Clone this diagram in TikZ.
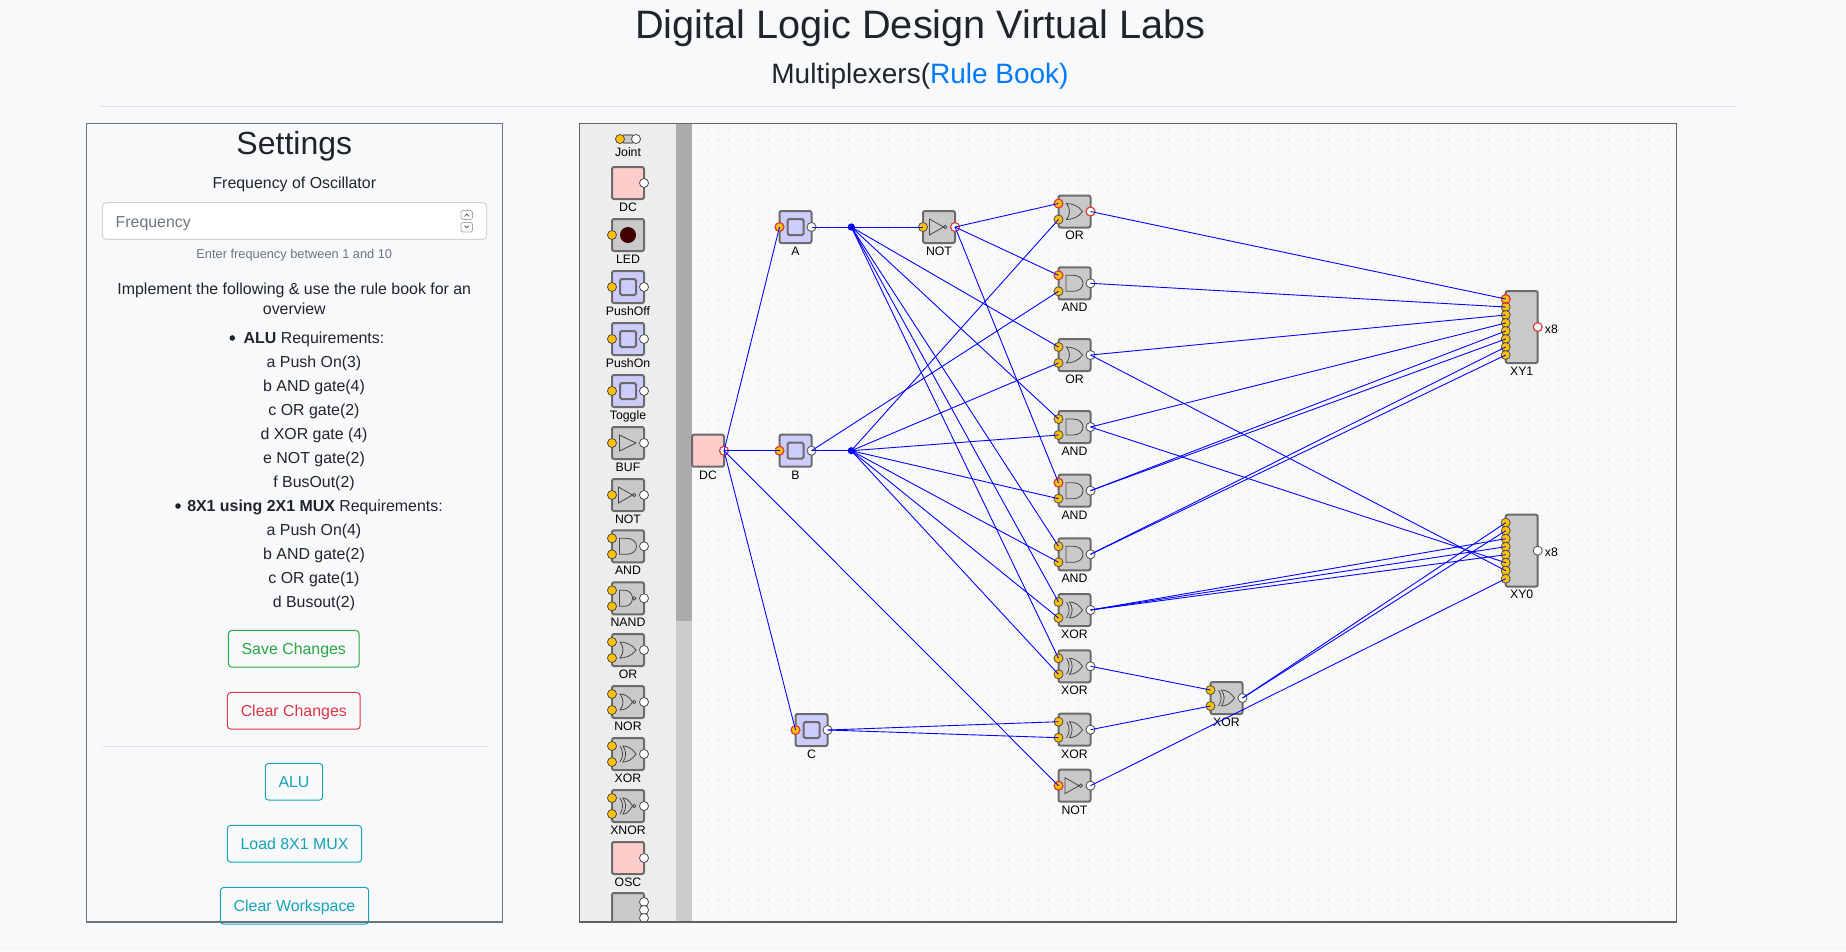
\documentclass[tikz,border=0pt]{standalone}
\usepackage{fontspec}
\setmainfont{Liberation Sans}
\definecolor{pagebg}{HTML}{F8F9FA}
\definecolor{inktxt}{HTML}{212529}
\definecolor{mutetxt}{HTML}{6C757D}
\definecolor{rulegrey}{HTML}{DEE2E6}
\definecolor{linkblue}{HTML}{007BFF}
\definecolor{okgreen}{HTML}{28A745}
\definecolor{badred}{HTML}{DC3545}
\definecolor{infoteal}{HTML}{17A2B8}
\definecolor{pinyellow}{HTML}{FFC000}
\definecolor{griddot}{HTML}{DFE1E3}
\definecolor{hotred}{HTML}{FF3030}
\tikzset{
  txt/.style={anchor=base,inner sep=0pt,text=inktxt,font=\fontsize{11.93}{14}\selectfont},
  tag/.style={anchor=base,inner sep=0pt,text=black,font=\fontsize{9.2}{11}\selectfont},
  part/.style={draw=black!58,fill=black!21,line width=1.5pt,rounded corners=1.5pt,minimum size=24pt,inner sep=0pt},
  pushbody/.style={fill=blue!20},
  srcbody/.style={fill=red!20},
  pinin/.style={circle,draw=black!70,fill=pinyellow,line width=.6pt,minimum size=6.8pt,inner sep=0pt},
  pinout/.style={circle,draw=black!70,fill=white,line width=.6pt,minimum size=6.8pt,inner sep=0pt},
  hotring/.style={draw=hotred,line width=.65pt},
  wire/.style={blue,line width=.66pt},
  joint/.style={circle,fill=blue,minimum size=5.4pt,inner sep=0pt},
  sym/.style={draw=black!72,line width=.6pt},
  btn/.style={draw,rounded corners=2.5pt,line width=.75pt,minimum height=27.5pt,anchor=center,inner sep=0pt,text height=9pt,text depth=1.2pt,font=\fontsize{11.93}{14}\selectfont},
  andsym/.pic={\draw[sym] (-8.5,-8)--(-1,-8) .. controls (5,-8) and (8.5,-4) .. (8.5,0) .. controls (8.5,4) and (5,8) .. (-1,8)--(-8.5,8)--cycle;},
  nandsym/.pic={\draw[sym] (-8.5,-8)--(-3,-8) .. controls (1.5,-8) and (4.5,-4) .. (4.5,0) .. controls (4.5,4) and (1.5,8) .. (-3,8)--(-8.5,8)--cycle;
    \draw[sym] (6.2,0) circle (1.7);},
  orsym/.pic={\draw[sym] (-8,-8) .. controls (-3,-8) and (4,-6) .. (8,0) .. controls (4,6) and (-3,8) .. (-8,8) .. controls (-4,3) and (-4,-3) .. (-8,-8)--cycle;},
  norsym/.pic={\draw[sym] (-8,-8) .. controls (-4,-8) and (1,-6) .. (4.5,0) .. controls (1,6) and (-4,8) .. (-8,8) .. controls (-4,3) and (-4,-3) .. (-8,-8)--cycle;
    \draw[sym] (6.2,0) circle (1.7);},
  xorsym/.pic={\draw[sym] (-5,-8) .. controls (-1,-8) and (4,-6) .. (8,0) .. controls (4,6) and (-1,8) .. (-5,8) .. controls (-1.5,3) and (-1.5,-3) .. (-5,-8)--cycle;
    \draw[sym] (-8,-8) .. controls (-4.5,-3) and (-4.5,3) .. (-8,8);},
  xnorsym/.pic={\draw[sym] (-5,-8) .. controls (-2,-8) and (1,-6) .. (4.5,0) .. controls (1,6) and (-2,8) .. (-5,8) .. controls (-1.5,3) and (-1.5,-3) .. (-5,-8)--cycle;
    \draw[sym] (-8,-8) .. controls (-4.5,-3) and (-4.5,3) .. (-8,8);
    \draw[sym] (6.2,0) circle (1.7);},
  bufsym/.pic={\draw[sym] (-8.5,-8)--(8,0)--(-8.5,8)--cycle;},
  notsym/.pic={\draw[sym] (-9.5,-8)--(4.5,0)--(-9.5,8)--cycle;
    \draw[sym] (6.2,0) circle (1.7);},
  pushsym/.pic={\draw[draw=black!58,fill=blue!20,line width=1.5pt,rounded corners=1.2pt] (-8,-8) rectangle (8,8);},
}
% one input, one output
\newcommand{\gateone}[6][]{
  \node[part,#1] (#2) at (#3,#4) {};
  \pic at (#3,#4) {#6};
  \node[pinin] (#2-i) at (#3-16,#4) {};
  \node[pinout] (#2-o) at (#3+16,#4) {};
  \node[tag] (#2-t) at (#3,#4+28.3) {#5};
}
% two inputs, one output
\newcommand{\gatetwo}[5]{
  \node[part] (#1) at (#2,#3) {};
  \pic at (#2,#3) {#5};
  \node[pinin] (#1-a) at (#2-16,#3-8) {};
  \node[pinin] (#1-b) at (#2-16,#3+8) {};
  \node[pinout] (#1-o) at (#2+16,#3) {};
  \node[tag] (#1-t) at (#2,#3+28.3) {#4};
}
% source with only an output
\newcommand{\source}[4]{
  \node[part,srcbody] (#1) at (#2,#3) {};
  \node[pinout] (#1-o) at (#2+16,#3) {};
  \node[tag] (#1-t) at (#2,#3+28.3) {#4};
}
% eight inputs, one output
\newcommand{\busout}[4]{
  \node[part,minimum height=54pt] (#1) at (#2,#3) {};
  \foreach \n in {1,...,8}
    \node[pinin] (#1-\n) at (#2-16,#3-36+8*\n) {};
  \node[pinout] (#1-o) at (#2+16,#3) {};
  \node[tag] (#1-t) at (#2,#3+48) {#4};
  \node[tag,anchor=base west] (#1-x) at (#2+23,#3+6) {x8};
}
\begin{document}
\begin{tikzpicture}[x=.75pt,y=-.75pt]
\useasboundingbox (0,0) rectangle (1846,951);
\fill[pagebg] (0,0) rectangle (1846,951);

% heading
\node[txt,font=\fontsize{29.75}{34}\selectfont] (title) at (920.5,38) {Digital Logic Design Virtual Labs};
\node[txt,font=\fontsize{21}{25}\selectfont] (subtitle) at (920,83) {Multiplexers(\textcolor{linkblue}{Rule Book)}};
\draw[rulegrey,line width=.75pt] (100,106.7)--(1737,106.7);

% settings panel
\draw[mutetxt,line width=.9pt] (86.3,123.5) rectangle (502.3,922);
\node[txt,font=\fontsize{24}{28}\selectfont] (settings) at (294.3,154.3) {Settings};
\node[txt] (freqhead) at (294.3,188.3) {Frequency of Oscillator};
\draw[draw=black!18,fill=white,rounded corners=3pt,line width=.75pt] (102.3,202.7) rectangle (486.7,239.3);
\node[txt,text=mutetxt,anchor=base west] (freq) at (115.4,227.3) {Frequency};
\draw[black!35,fill=white,rounded corners=1.5pt,line width=.5pt] (461,210.5) rectangle (472.5,219.5);
\draw[black!35,fill=white,rounded corners=1.5pt,line width=.5pt] (461,222.5) rectangle (472.5,232);
\draw[black!70,line width=.5pt] (464.5,216.5)--(466.7,214)--(469,216.5);
\draw[black!70,line width=.5pt] (464.5,225.5)--(466.7,228)--(469,225.5);
\node[txt,text=mutetxt,font=\fontsize{9.6}{12}\selectfont] (freqhint) at (294.3,258.3) {Enter frequency between 1 and 10};
\node[txt] (impl1) at (294.3,294) {Implement the following \& use the rule book for an};
\node[txt] (impl2) at (294.3,314) {overview};
\fill[inktxt] (232.3,338) circle (2.8);
\node[txt] (alu) at (314,343.3) {\textbf{ALU} Requirements:};
\foreach \y/\t in {367.4/a Push On(3),391.5/b AND gate(4),415.6/c OR gate(2),439.7/d XOR gate (4),463.8/e NOT gate(2),487.4/f BusOut(2)}
  \node[txt] at (314,\y) {\t};
\fill[inktxt] (178,506) circle (2.8);
\node[txt] (mux) at (315,511.3) {\textbf{8X1 using 2X1 MUX} Requirements:};
\foreach \y/\t in {535.3/a Push On(4),559.3/b AND gate(2),583.3/c OR gate(1),607.3/d Busout(2)}
  \node[txt] at (314,\y) {\t};

% buttons
\node[btn,okgreen,minimum width=98pt] (save) at (293.8,648.8) {Save Changes};
\node[btn,badred,minimum width=99.5pt] (clear) at (293.8,710.8) {Clear Changes};
\draw[rulegrey,line width=.75pt] (102.3,746.3)--(486.7,746.3);
\node[btn,infoteal,minimum width=43pt] (aluload) at (294,781.8) {ALU};
\node[btn,infoteal,minimum width=100.8pt] (muxload) at (294.5,843.8) {Load 8X1 MUX};
\node[btn,infoteal,minimum width=111.3pt] (wipe) at (294.5,905.8) {Clear Workspace};

% workspace grid
\foreach \y in {130,140,...,920}
  \draw[griddot,line width=.8pt,dash pattern=on .8pt off 6.7pt] (698,\y)--(1676,\y);

% palette
\fill[black!7] (580,124) rectangle (676,922);
\fill[black!20] (676,124) rectangle (692,922);
\fill[black!33] (676,124) rectangle (692,620.7);
\begin{scope}
\clip (580,124) rectangle (692,922);
\draw[draw=black!58,fill=black!21,line width=.9pt,rounded corners=3pt] (620,135) rectangle (636,143);
\node[pinin] (pjoint-i) at (620,139) {};
\node[pinout] (pjoint-o) at (636,139) {};
\node[tag] (pjoint-t) at (628,156) {Joint};
\source{pdc}{628}{183}{DC}
\node[part] (pled) at (628,235) {};
\fill[black!75!red] (628,235) circle (8);
\node[pinin] (pled-i) at (612,235) {};
\node[tag] (pled-t) at (628,263) {LED};
\foreach \y/\t in {287/PushOff,339/PushOn,391/Toggle}
  \gateone[pushbody]{p\t}{628}{\y}{\t}{pushsym};
\gateone{pbuf}{628}{443}{BUF}{bufsym}
\gateone{pnot}{628}{495}{NOT}{notsym}
\gatetwo{pand}{628}{546.3}{AND}{andsym}
\gatetwo{pnand}{628}{598.3}{NAND}{nandsym}
\gatetwo{por}{628}{650}{OR}{orsym}
\gatetwo{pnor}{628}{702}{NOR}{norsym}
\gatetwo{pxor}{628}{754}{XOR}{xorsym}
\gatetwo{pxnor}{628}{806}{XNOR}{xnorsym}
\source{posc}{628}{858}{OSC}
\node[part,minimum height=54pt] (pbus) at (628,929) {};
\foreach \y in {902,910,918}
  \node[pinout] at (644,\y) {};
\end{scope}

% circuit
\source{dc}{708}{450.7}{DC}
\gateone[pushbody]{swA}{795.5}{227}{A}{pushsym}
\gateone[pushbody]{swB}{795.5}{450.7}{B}{pushsym}
\gateone[pushbody]{swC}{811.5}{730}{C}{pushsym}
\node[joint] (jA) at (851.3,227) {};
\node[joint] (jB) at (851.3,450.7) {};
\gateone{notA}{939}{227}{NOT}{notsym}
\gatetwo{orA}{1074.5}{211.5}{OR}{orsym}
\gatetwo{andB}{1074.5}{283.3}{AND}{andsym}
\gatetwo{orC}{1074.5}{355}{OR}{orsym}
\gatetwo{andD}{1074.5}{427}{AND}{andsym}
\gatetwo{andE}{1074.5}{490.7}{AND}{andsym}
\gatetwo{andF}{1074.5}{554.3}{AND}{andsym}
\gatetwo{xorG}{1074.5}{610}{XOR}{xorsym}
\gatetwo{xorH}{1074.5}{666.3}{XOR}{xorsym}
\gatetwo{xorI}{1074.5}{729.7}{XOR}{xorsym}
\gateone{notJ}{1074.5}{785.7}{NOT}{notsym}
\gatetwo{xorK}{1226.5}{698}{XOR}{xorsym}
\busout{xya}{1521.7}{327}{XY1}
\busout{xyb}{1521.7}{550.7}{XY0}

% pins that carry a high level
\foreach \p in {dc-o,swA-i,swB-i,swC-i,notA-o,orA-a,orA-o,andB-a,andE-a,notJ-i,xya-1,xya-o}
  \draw[hotring] (\p.center) circle (4.4);

% wires
\foreach \a/\b in {dc-o/swA-i,dc-o/swB-i,dc-o/swC-i,dc-o/notJ-i,
  swA-o/jA,swB-o/jB,jA/notA-i,swB-o/andB-b,
  notA-o/orA-a,notA-o/andB-a,notA-o/andE-a,
  jA/orC-a,jA/andD-a,jA/andF-a,jA/xorG-a,jA/xorH-a,
  jB/orA-b,jB/orC-b,jB/andD-b,jB/andE-b,jB/andF-b,jB/xorG-b,jB/xorH-b,
  swC-o/xorI-a,swC-o/xorI-b,
  orA-o/xya-1,andB-o/xya-2,orC-o/xya-3,andD-o/xya-4,
  andE-o/xya-5,andE-o/xya-6,andF-o/xya-7,andF-o/xya-8,
  xorK-o/xyb-1,xorK-o/xyb-2,xorG-o/xyb-3,xorG-o/xyb-4,xorG-o/xyb-5,
  andD-o/xyb-6,orC-o/xyb-7,notJ-o/xyb-8,
  xorH-o/xorK-a,xorI-o/xorK-b}
  \draw[wire] (\a.center)--(\b.center);

% workspace frame
\draw[black!62,line width=.9pt] (579.5,123.5) rectangle (1676.5,922);
\end{tikzpicture}
\end{document}
